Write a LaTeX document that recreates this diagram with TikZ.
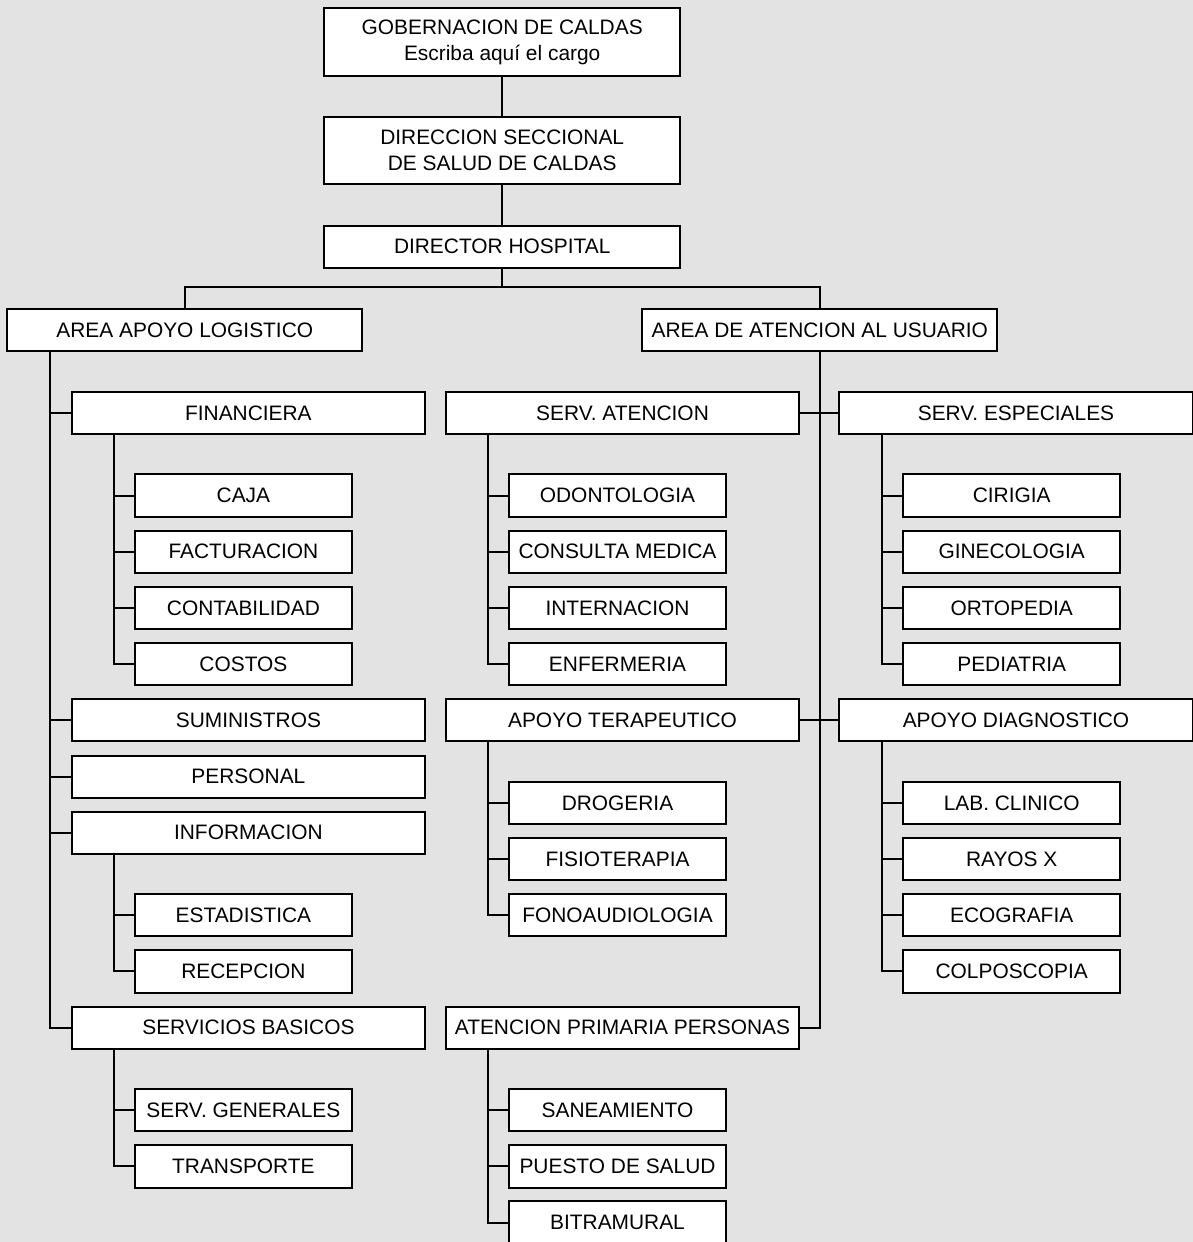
\documentclass[tikz,border=0pt]{standalone}
\usepackage{fontspec}
\setmainfont{Liberation Sans}
\usetikzlibrary{calc}
\definecolor{bg}{HTML}{E3E3E3}
\begin{document}
\begin{tikzpicture}[x=0.5pt,y=-0.5pt,
 box/.style={draw=black,fill=white,line width=1pt,inner sep=0pt,align=center,font=\fontsize{10.45}{12.9}\selectfont},
 topbox/.style={box,minimum width=177.85pt},
 areabox/.style={box,minimum width=177.5pt,minimum height=20.85pt},
 grpbox/.style={box,minimum width=176.75pt,minimum height=21pt},
 leafbox/.style={box,minimum width=108.5pt,minimum height=21.2pt},
 conn/.style={line width=1pt}]
\fill[bg] (0,0) rectangle (1193,1242);
\useasboundingbox (0,0) rectangle (1193,1242);
% top
\node[topbox,minimum height=33.85pt] (gob) at (502.2,42.2) {GOBERNACION DE CALDAS\\Escriba aquí el cargo};
\node[topbox,minimum height=33.8pt] (dss) at (502.2,150.5) {DIRECCION SECCIONAL\\DE SALUD DE CALDAS};
\node[topbox,minimum height=21pt] (dh) at (502.2,246.7) {DIRECTOR HOSPITAL};
\node[areabox] (a1) at (184.8,329.9) {AREA APOYO LOGISTICO};
\node[areabox] (a2) at (819.8,329.9) {AREA DE ATENCION AL USUARIO};
% left column
\node[grpbox] (fin) at (248.4,413) {FINANCIERA};
\node[leafbox] (caja) at (243.4,495.5) {CAJA};
\node[leafbox] (fact) at (243.4,551.7) {FACTURACION};
\node[leafbox] (cont) at (243.4,607.9) {CONTABILIDAD};
\node[leafbox] (cost) at (243.4,664.1) {COSTOS};
\node[grpbox] (sum) at (248.4,720.3) {SUMINISTROS};
\node[grpbox] (per) at (248.4,776.5) {PERSONAL};
\node[grpbox] (inf) at (248.4,832.7) {INFORMACION};
\node[leafbox] (est) at (243.4,915.2) {ESTADISTICA};
\node[leafbox] (rec) at (243.4,971.4) {RECEPCION};
\node[grpbox] (sb) at (248.4,1027.6) {SERVICIOS BASICOS};
\node[leafbox] (sg) at (243.4,1110.1) {SERV. GENERALES};
\node[leafbox] (tr) at (243.4,1166.3) {TRANSPORTE};
% middle column
\node[grpbox] (sat) at (622.5,413) {SERV. ATENCION};
\node[leafbox] (odo) at (617.5,495.5) {ODONTOLOGIA};
\node[leafbox] (cm) at (617.5,551.7) {CONSULTA MEDICA};
\node[leafbox] (int) at (617.5,607.9) {INTERNACION};
\node[leafbox] (enf) at (617.5,664.1) {ENFERMERIA};
\node[grpbox] (at) at (622.5,720.3) {APOYO TERAPEUTICO};
\node[leafbox] (dro) at (617.5,802.8) {DROGERIA};
\node[leafbox] (fis) at (617.5,859) {FISIOTERAPIA};
\node[leafbox] (fon) at (617.5,915.2) {FONOAUDIOLOGIA};
\node[grpbox] (app) at (622.5,1027.6) {ATENCION PRIMARIA PERSONAS};
\node[leafbox] (san) at (617.5,1110.1) {SANEAMIENTO};
\node[leafbox] (ps) at (617.5,1166.3) {PUESTO DE SALUD};
\node[leafbox] (bit) at (617.5,1222.5) {BITRAMURAL};
% right column
\node[grpbox] (se) at (1016,413) {SERV. ESPECIALES};
\node[leafbox] (cir) at (1011.7,495.5) {CIRIGIA};
\node[leafbox] (gin) at (1011.7,551.7) {GINECOLOGIA};
\node[leafbox] (ort) at (1011.7,607.9) {ORTOPEDIA};
\node[leafbox] (ped) at (1011.7,664.1) {PEDIATRIA};
\node[grpbox] (ad) at (1016,720.3) {APOYO DIAGNOSTICO};
\node[leafbox] (lab) at (1011.7,802.8) {LAB. CLINICO};
\node[leafbox] (ray) at (1011.7,859) {RAYOS X};
\node[leafbox] (eco) at (1011.7,915.2) {ECOGRAFIA};
\node[leafbox] (col) at (1011.7,971.4) {COLPOSCOPIA};
% connectors
\coordinate (bus) at (502.2,287.3);
\draw[conn] (gob.south) -- (dss.north);
\draw[conn] (dss.south) -- (dh.north);
\draw[conn] (dh.south) -- (bus) -| (a1.north);
\draw[conn] (bus) -| (a2.north);
\foreach \n in {fin,sum,per,inf,sb} \draw[conn] ([xshift=21.85pt]a1.south west) |- (\n.west);
\foreach \n in {caja,fact,cont,cost} \draw[conn] ([xshift=21.65pt]fin.south west) |- (\n.west);
\foreach \n in {est,rec} \draw[conn] ([xshift=21.65pt]inf.south west) |- (\n.west);
\foreach \n in {sg,tr} \draw[conn] ([xshift=21.65pt]sb.south west) |- (\n.west);
\foreach \n in {sat,at,app} \draw[conn] (a2.south) |- (\n.east);
\foreach \n in {se,ad} \draw[conn] (a2.south) |- (\n.west);
\foreach \n in {odo,cm,int,enf} \draw[conn] ([xshift=21.65pt]sat.south west) |- (\n.west);
\foreach \n in {dro,fis,fon} \draw[conn] ([xshift=21.65pt]at.south west) |- (\n.west);
\foreach \n in {san,ps,bit} \draw[conn] ([xshift=21.65pt]app.south west) |- (\n.west);
\foreach \n in {cir,gin,ort,ped} \draw[conn] ([xshift=21.65pt]se.south west) |- (\n.west);
\foreach \n in {lab,ray,eco,col} \draw[conn] ([xshift=21.65pt]ad.south west) |- (\n.west);
\end{tikzpicture}
\end{document}
